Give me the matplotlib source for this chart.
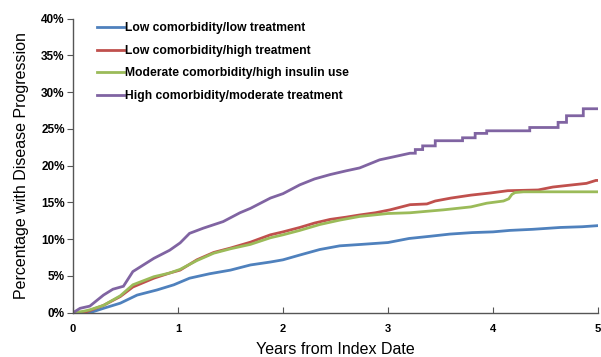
import matplotlib
matplotlib.use("Agg")
import matplotlib.pyplot as plt
from matplotlib.ticker import FuncFormatter

plt.rcParams['font.family'] = ['Liberation Sans', 'DejaVu Sans']

labels = ["Low comorbidity/low treatment",
          "Low comorbidity/high treatment",
          "Moderate comorbidity/high insulin use",
          "High comorbidity/moderate treatment"]
colors = ["#4F81BD", "#C0504D", "#9BBB59", "#8064A2"]

blue_t = [0, 0.16, 0.29, 0.45, 0.61, 0.80, 0.96, 1.11, 1.30, 1.50, 1.69, 1.88, 2.0, 2.16, 2.35,
          2.54, 2.75, 3.0, 3.2, 3.4, 3.59, 3.8, 4.0, 4.16, 4.38, 4.64, 4.85, 5.0]
blue_v = [0, 0, 0.6, 1.3, 2.4, 3.1, 3.8, 4.7, 5.3, 5.8, 6.5, 6.9, 7.2, 7.85, 8.6,
          9.1, 9.3, 9.55, 10.1, 10.4, 10.7, 10.9, 11.0, 11.2, 11.35, 11.6, 11.7, 11.85]

red_t = [0, 0.1, 0.16, 0.29, 0.45, 0.57, 0.77, 0.92, 1.02, 1.18, 1.34, 1.50, 1.69, 1.88, 2.0,
         2.16, 2.30, 2.45, 2.60, 2.73, 2.88, 3.02, 3.21, 3.37, 3.45, 3.60, 3.79, 3.98, 4.14,
         4.43, 4.57, 4.76, 4.89, 4.98, 5.0]
red_v = [0, 0, 0.3, 1.0, 2.2, 3.5, 4.7, 5.4, 5.8, 7.2, 8.2, 8.8, 9.6, 10.6, 11.0,
         11.6, 12.2, 12.7, 13.0, 13.3, 13.6, 14.0, 14.7, 14.8, 15.2, 15.6, 16.0, 16.3, 16.6,
         16.7, 17.1, 17.4, 17.6, 18.0, 18.0]

green_t = [0, 0.1, 0.16, 0.29, 0.45, 0.57, 0.77, 0.92, 1.02, 1.18, 1.34, 1.50, 1.69, 1.88, 2.0,
           2.16, 2.35, 2.54, 2.73, 3.0, 3.21, 3.53, 3.79, 3.94, 4.10, 4.15, 4.18, 4.21, 4.29, 5.0]
green_v = [0, 0.2, 0.4, 1.0, 2.3, 3.8, 4.9, 5.4, 5.9, 7.1, 8.1, 8.7, 9.3, 10.2, 10.6,
           11.2, 12.0, 12.6, 13.1, 13.5, 13.6, 14.0, 14.4, 14.9, 15.2, 15.5, 16.1, 16.35, 16.45, 16.45]

purple_t = [0, 0.067, 0.16, 0.29, 0.38, 0.48, 0.57, 0.77, 0.92, 1.02, 1.11, 1.24, 1.43, 1.59,
            1.69, 1.88, 2.0, 2.16, 2.30, 2.45, 2.60, 2.73, 2.92, 3.05, 3.21, 3.26, 3.26, 3.33,
            3.33, 3.45, 3.45, 3.71, 3.71, 3.83, 3.83, 3.94, 3.94, 4.35, 4.35, 4.62, 4.62, 4.70,
            4.70, 4.86, 4.86, 5.0]
purple_v = [0, 0.6, 0.9, 2.4, 3.2, 3.6, 5.6, 7.4, 8.5, 9.5, 10.8, 11.5, 12.4, 13.6,
            14.2, 15.6, 16.2, 17.4, 18.2, 18.8, 19.3, 19.7, 20.8, 21.2, 21.7, 21.7, 22.2, 22.2,
            22.7, 22.7, 23.4, 23.4, 23.8, 23.8, 24.4, 24.4, 24.75, 24.75, 25.2, 25.2, 25.9, 25.9,
            26.8, 26.8, 27.75, 27.75]

series = [(blue_t, blue_v), (red_t, red_v), (green_t, green_v), (purple_t, purple_v)]

x_ticks = [0, 1, 2, 3, 4, 5]
y_ticks = [0, 5, 10, 15, 20, 25, 30, 35, 40]

fig = plt.figure(figsize=(6.01, 3.57), dpi=100)
ax = fig.add_axes([0.1215, 0.124, 0.8735, 0.8236])

for (t, v), c, lab in zip(series, colors, labels):
    ax.plot(t, v, color=c, lw=2.0, label=lab, solid_joinstyle='miter')

ax.set_xlim(0, 5)
ax.set_ylim(0, 40)
ax.set_xticks(x_ticks)
ax.set_yticks(y_ticks)
ax.yaxis.set_major_formatter(FuncFormatter(lambda v, p: f"{int(v)}%"))

for s in ['top', 'right']:
    ax.spines[s].set_visible(False)
for s in ['left', 'bottom']:
    ax.spines[s].set_color('#555555')
    ax.spines[s].set_linewidth(1.0)

ax.tick_params(axis='x', direction='in', length=4, color='#555555', labelsize=8, pad=8)
ax.tick_params(axis='y', direction='out', length=4, color='#555555', labelsize=8.5, pad=2)
for lbl in ax.get_xticklabels() + ax.get_yticklabels():
    lbl.set_fontweight('bold')

ax.set_xlabel("Years from Index Date", fontsize=11.5, labelpad=6)
ax.set_ylabel("Percentage with Disease Progression", fontsize=11.5, labelpad=9)

leg = ax.legend(loc='upper left', bbox_to_anchor=(0.025, 1.025), frameon=False,
                handlelength=2.2, handletextpad=0.1, labelspacing=0.88,
                prop={'size': 8.7, 'weight': 'bold'})

fig.savefig("out.png", dpi=100)
